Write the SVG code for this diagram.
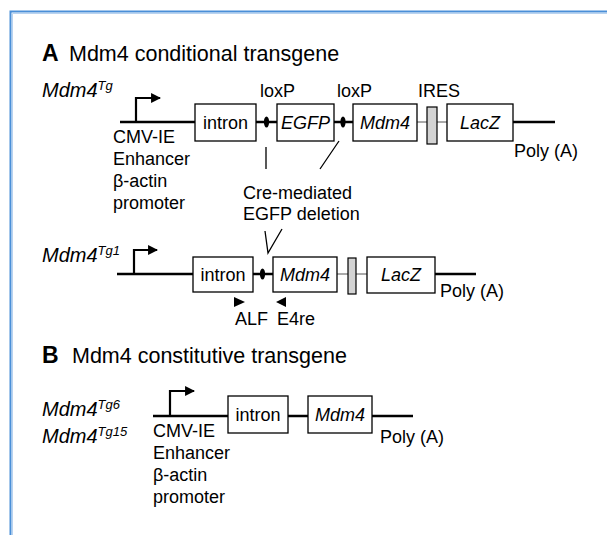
<svg xmlns="http://www.w3.org/2000/svg" width="607" height="535" viewBox="0 0 607 535">
<style>
text{font-family:"Liberation Sans",Arial,sans-serif;fill:#000}
.lbl{font-size:18px}
.it{font-style:italic}
.rl{font-size:20px;font-style:italic}
.ttl{font-size:21.5px}
.b{font-weight:bold;font-size:23px}
.sup{font-size:13px}
.box{fill:#fff;stroke:#000;stroke-width:1.3}
.dna{stroke:#000;stroke-width:2.6;fill:none}
.thin{stroke:#555;stroke-width:1;fill:none}
.prom{stroke:#000;stroke-width:2.2;fill:none}
.ires{fill:#d3d3d3;stroke:#000;stroke-width:1.2}
.ln{stroke:#000;stroke-width:1.3;fill:none}
</style>
<defs>
<marker id="ah" viewBox="0 0 10 10" refX="9" refY="5" markerWidth="4.5" markerHeight="4.5" orient="auto" markerUnits="strokeWidth"><path d="M0,0 L10,5 L0,10 z" fill="#000"/></marker>
</defs>
<path d="M10.5,535 V11.5 H607" fill="none" stroke="#4a8fd8" stroke-width="2"/>
<path d="M12.5,535 V13.5 H607" fill="none" stroke="#b9d3f0" stroke-width="1"/>

<g id="title-a"><text x="42" y="61" class="b">A</text><text x="69" y="61" class="ttl">Mdm4 conditional transgene</text></g>

<g id="connectors">
<path class="dna" d="M120,122 H195 M256,122 H277 M334,122 H353 M513,122 H555"/>
<path class="thin" d="M417,122 H427 M437,122 H447"/>
<path class="prom" d="M136,122 V98 H160" marker-end="url(#ah)"/>
<path class="ln" d="M266,147 V169 M339,141 L320,169"/>
<path class="dna" d="M117,274 H193 M253,274 H273 M435,274 H476"/>
<path class="thin" d="M337,274 H348 M356,274 H367"/>
<path class="prom" d="M134,274 V250 H157" marker-end="url(#ah)"/>
<path class="ln" d="M265,231 L268,253 L282,229"/>
<path class="dna" d="M153,416 H228 M288,416 H308 M372,416 H413"/>
<path class="prom" d="M170,416 V391 H194" marker-end="url(#ah)"/>
</g>

<g id="tg-label"><text x="42" y="97" class="rl">Mdm4<tspan class="sup" dy="-7">Tg</tspan></text></g>
<g id="promoter-a"><text class="lbl"><tspan x="113" y="143">CMV-IE</tspan><tspan x="113" y="165">Enhancer</tspan><tspan x="113" y="187">β-actin</tspan><tspan x="113" y="209">promoter</tspan></text></g>
<g id="intron-a"><rect class="box" x="195" y="104" width="61" height="37"/><text x="225.5" y="129" class="lbl" text-anchor="middle">intron</text></g>
<g id="loxp1-a"><ellipse cx="266.5" cy="122" rx="2.6" ry="5.5"/><text x="260" y="97" class="lbl">loxP</text></g>
<g id="egfp-a"><rect class="box" x="277" y="104" width="57" height="37"/><text x="305.5" y="129" class="lbl it" text-anchor="middle">EGFP</text></g>
<g id="loxp2-a"><ellipse cx="343" cy="122" rx="2.6" ry="5.5"/><text x="337" y="97" class="lbl">loxP</text></g>
<g id="mdm4-a"><rect class="box" x="353" y="104" width="64" height="37"/><text x="385" y="129" class="lbl it" text-anchor="middle">Mdm4</text></g>
<g id="ires-a"><rect class="ires" x="427" y="107" width="10" height="37"/><text x="418" y="97" class="lbl">IRES</text></g>
<g id="lacz-a"><rect class="box" x="447" y="104" width="66" height="37"/><text x="480" y="129" class="lbl it" text-anchor="middle">LacZ</text></g>
<g id="polya-a"><text x="514" y="157" class="lbl">Poly (A)</text></g>
<g id="cre-label"><text class="lbl"><tspan x="243" y="199">Cre-mediated</tspan><tspan x="243" y="220">EGFP deletion</tspan></text></g>

<g id="tg1-label"><text x="42" y="262" class="rl">Mdm4<tspan class="sup" dy="-7">Tg1</tspan></text></g>
<g id="intron-tg1"><rect class="box" x="193" y="257" width="60" height="35"/><text x="223" y="281" class="lbl" text-anchor="middle">intron</text></g>
<g id="loxp-tg1"><ellipse cx="262.5" cy="274" rx="2.6" ry="5.5"/></g>
<g id="mdm4-tg1"><rect class="box" x="273" y="257" width="64" height="35"/><text x="305" y="281" class="lbl it" text-anchor="middle">Mdm4</text></g>
<g id="ires-tg1"><rect class="ires" x="348" y="258" width="8" height="36"/></g>
<g id="lacz-tg1"><rect class="box" x="367" y="257" width="68" height="36"/><text x="401" y="281" class="lbl it" text-anchor="middle">LacZ</text></g>
<g id="polya-tg1"><text x="440" y="297" class="lbl">Poly (A)</text></g>
<g id="alf"><path d="M234,297 L245,302 L234,307 z"/><text x="235" y="325" class="lbl">ALF</text></g>
<g id="e4re"><path d="M286,297 L276,302 L286,307 z"/><text x="277" y="325" class="lbl">E4re</text></g>

<g id="title-b"><text x="42" y="363" class="b">B</text><text x="72" y="363" class="ttl">Mdm4 constitutive transgene</text></g>
<g id="tg6-label"><text x="42" y="416" class="rl">Mdm4<tspan class="sup" dy="-7">Tg6</tspan></text></g>
<g id="tg15-label"><text x="42" y="443" class="rl">Mdm4<tspan class="sup" dy="-7">Tg15</tspan></text></g>
<g id="promoter-b"><text class="lbl"><tspan x="153" y="437">CMV-IE</tspan><tspan x="153" y="459">Enhancer</tspan><tspan x="153" y="481">β-actin</tspan><tspan x="153" y="503">promoter</tspan></text></g>
<g id="intron-b"><rect class="box" x="228" y="396" width="60" height="37"/><text x="258" y="421" class="lbl" text-anchor="middle">intron</text></g>
<g id="mdm4-b"><rect class="box" x="308" y="396" width="64" height="37"/><text x="340" y="421" class="lbl it" text-anchor="middle">Mdm4</text></g>
<g id="polya-b"><text x="380" y="443" class="lbl">Poly (A)</text></g>
</svg>
